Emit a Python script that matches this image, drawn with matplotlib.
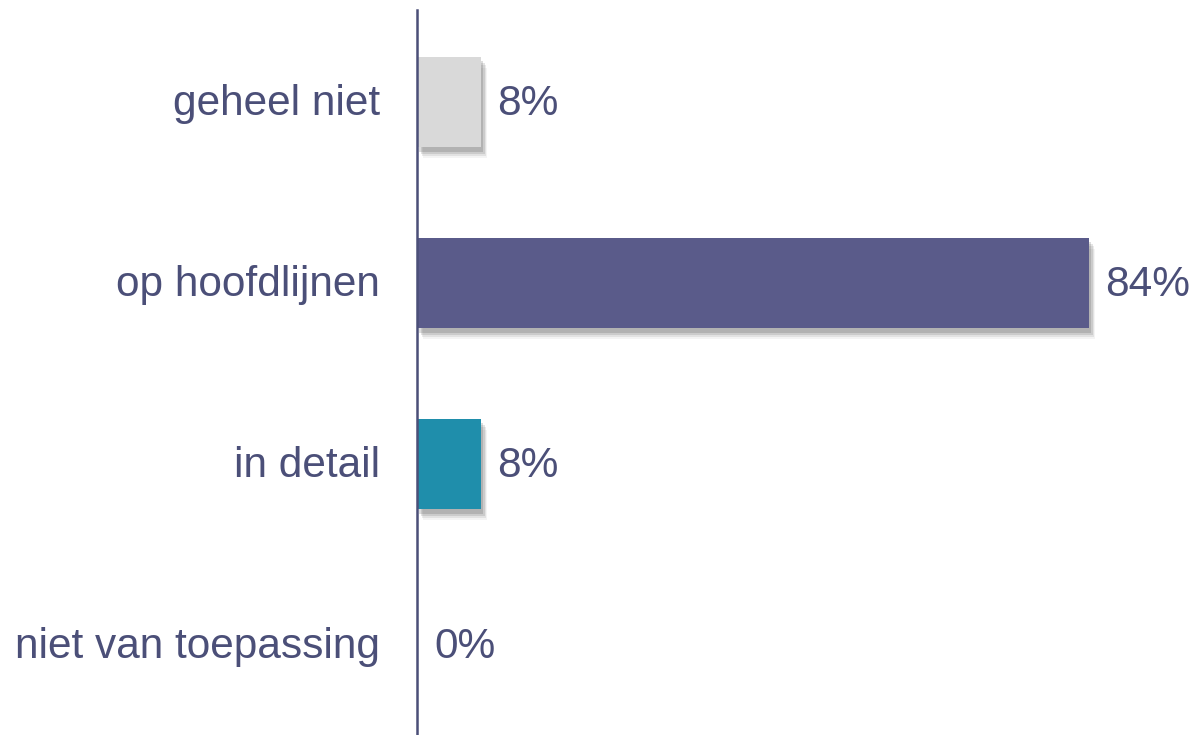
import matplotlib
matplotlib.use("Agg")
import matplotlib.pyplot as plt
from matplotlib.patches import Rectangle

categories = ["geheel niet", "op hoofdlijnen", "in detail", "niet van toepassing"]
values = [8, 84, 8, 0]
labels = ["8%", "84%", "8%", "0%"]
colors = ["#D9D9D9", "#5A5B8A", "#1F8EAB", "#5A5B8A"]
text_color = "#4B4F78"

plt.rcParams['font.family'] = ['Liberation Sans', 'DejaVu Sans']

fig = plt.figure(figsize=(11.97, 7.35), dpi=100)
ax = fig.add_axes([417/1197, 0, (1197-417)/1197, 1 - 10/735])
ax.set_xlim(0, (1197 - 417) / 8.0)
y_top = -(102 - 10) / 181.0
y_bot = (735 - 102) / 181.0
ax.set_ylim(y_bot, y_top)

h = 0.5
# fake blurred shadow
for i, v in enumerate(values):
    if v <= 0:
        continue
    for dx, dy, a in [(0.75, 0.060, 0.06), (0.6, 0.048, 0.10), (0.45, 0.036, 0.14), (0.3, 0.024, 0.18)]:
        ax.add_patch(Rectangle((dx, i - h/2 + dy), v, h, facecolor="#444444",
                               alpha=a, edgecolor="none", zorder=1))

bars = ax.barh(range(len(categories)), values, height=h, color=colors, zorder=2)

fs = 30.5
for i, (v, lab) in enumerate(zip(values, labels)):
    ax.text(v + 2.0 if v > 0 else 2.2, i + 0.01, lab, va="center", ha="left",
            fontsize=fs, color=text_color)
    ax.text(-4.6, i + 0.01, categories[i], va="center", ha="right",
            fontsize=fs, color=text_color)

for s in ["top", "right", "bottom"]:
    ax.spines[s].set_visible(False)
ax.spines["left"].set_color(text_color)
ax.spines["left"].set_linewidth(1.8)
ax.set_xticks([])
ax.set_yticks([])
ax.patch.set_alpha(0)

fig.savefig("out.png", dpi=100)
